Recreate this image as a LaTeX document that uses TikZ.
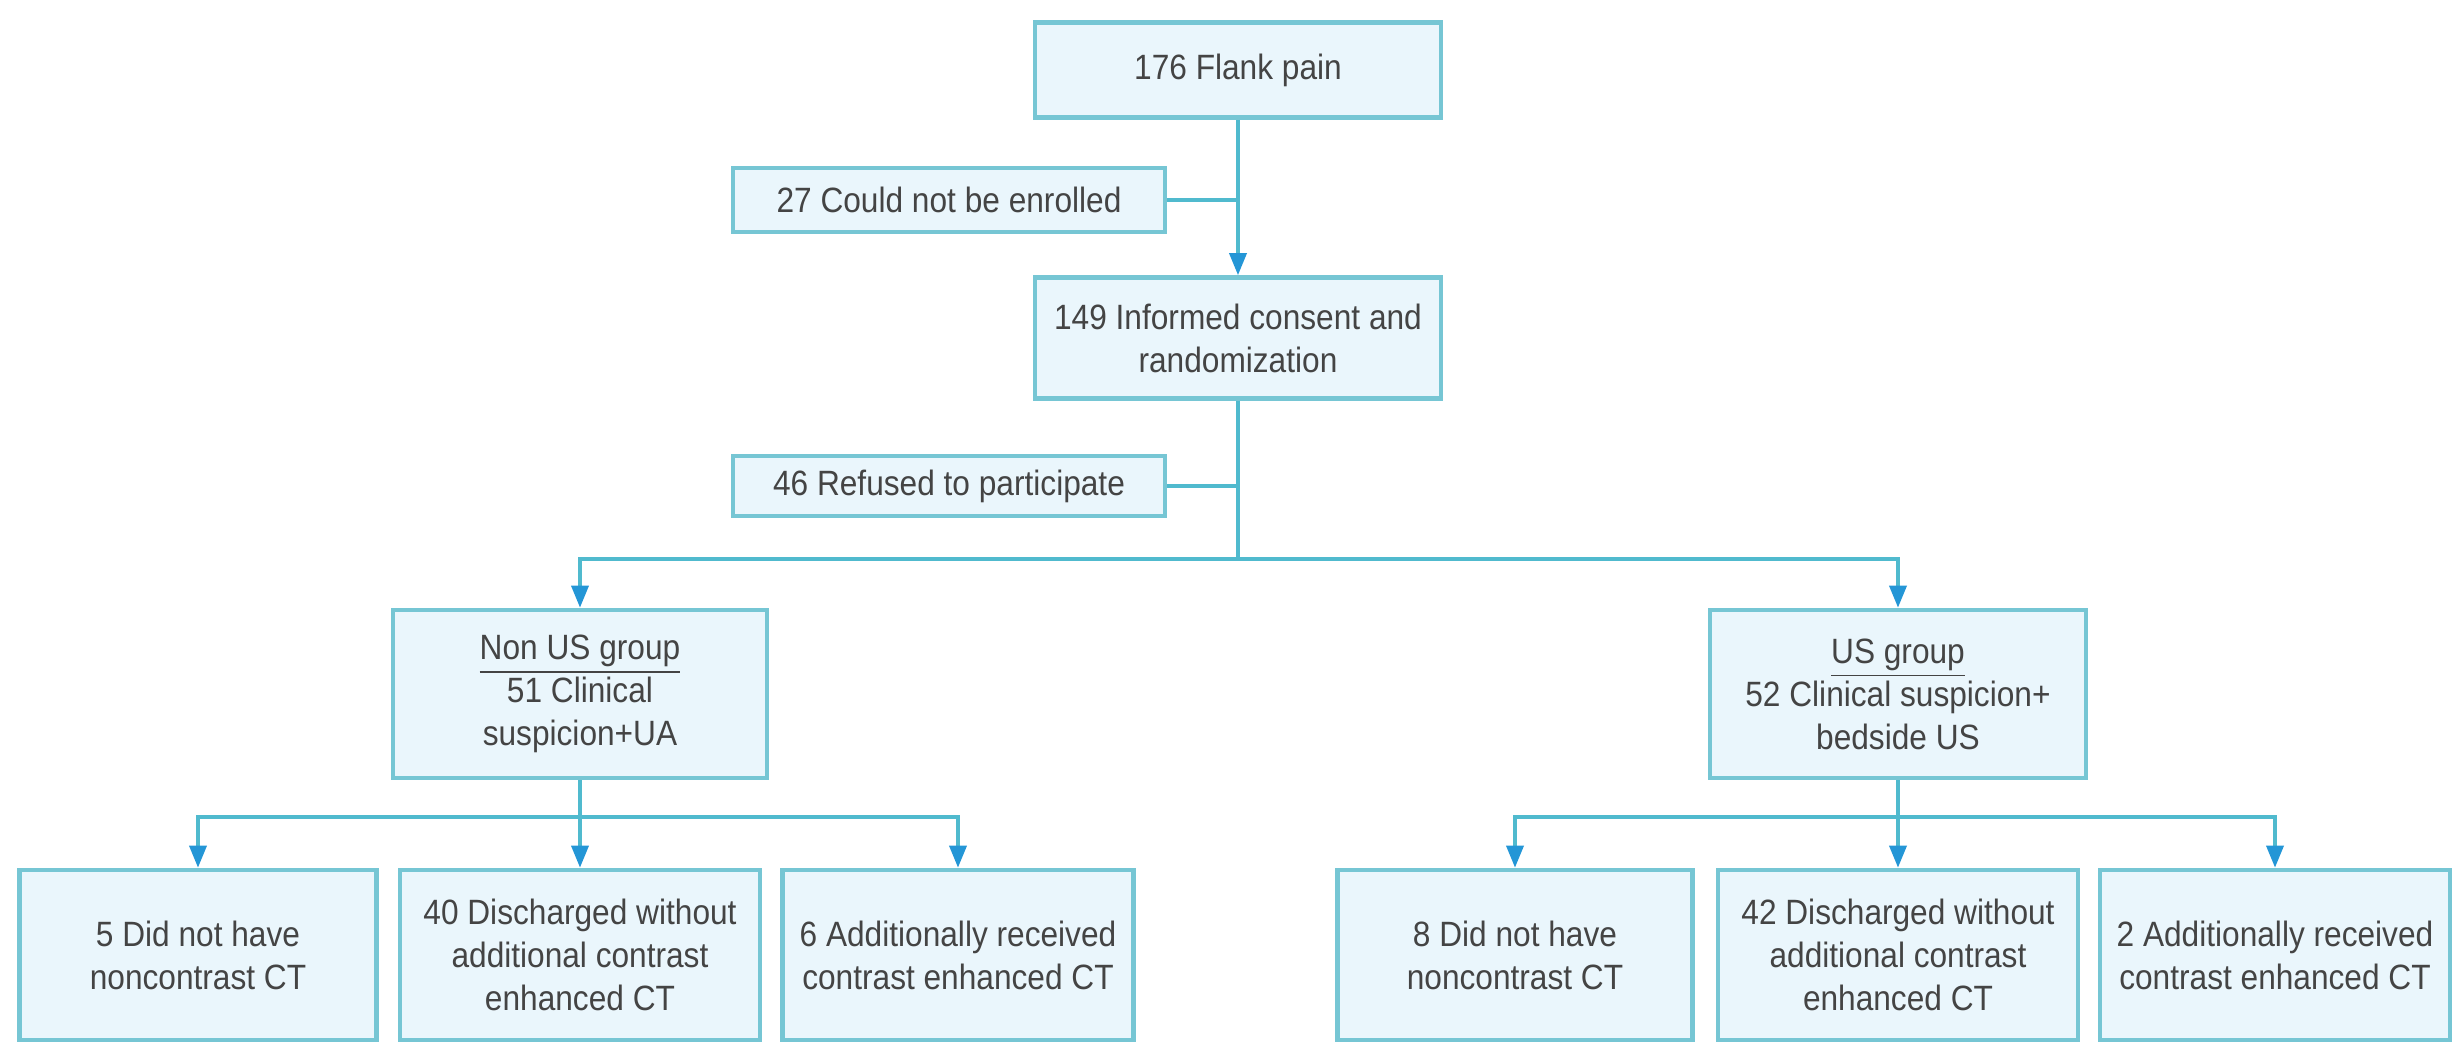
\documentclass[tikz,border=0pt]{standalone}
\usepackage{fontspec}
\setmainfont{Liberation Sans}[FakeStretch=0.9]
\usetikzlibrary{arrows.meta}

\definecolor{boxfill}{RGB}{234,246,252}
\definecolor{boxline}{RGB}{118,198,212}
\definecolor{linkteal}{RGB}{80,186,206}
\definecolor{tipblue}{RGB}{36,150,214}
\definecolor{txtgray}{RGB}{68,68,68}

\begin{document}
\begin{tikzpicture}[x={(0.01cm,0cm)},y={(0cm,-0.01cm)},
    flowbox/.style={draw=boxline,fill=boxfill,line width=1.3pt,align=center,
        text=txtgray,inner sep=2pt,font=\fontsize{10}{12.2}\selectfont},
    link/.style={draw=linkteal,line width=1pt},
    flowarrow/.style={link,-{Triangle[length=2.2mm,width=1.7mm,color=tipblue]}}]
        \useasboundingbox (0,0) rectangle (2453,1044);
        % main column
        \node[flowbox,minimum width=4.06cm,minimum height=0.95cm] (flank) at (1238,70) {176 Flank pain};
        \node[flowbox,minimum width=4.32cm,minimum height=0.64cm] (enrol) at (949,200) {27 Could not be enrolled};
        \node[flowbox,minimum width=4.06cm,minimum height=1.21cm] (consent) at (1238,338) {149 Informed consent and\\randomization};
        \node[flowbox,minimum width=4.32cm,minimum height=0.6cm] (refuse) at (949,486) {46 Refused to participate};
        % groups
        \node[flowbox,minimum width=3.74cm,minimum height=1.68cm] (nonus) at (580,694) {\underline{Non US group}\\51 Clinical\\suspicion+UA};
        \node[flowbox,minimum width=3.76cm,minimum height=1.68cm] (us) at (1898,694) {\underline{US group}\\52 Clinical suspicion+\\bedside US};
        % outcomes
        \node[flowbox,minimum width=3.57cm,minimum height=1.7cm] (nonA) at (198,955) {5 Did not have\\noncontrast CT};
        \node[flowbox,minimum width=3.6cm,minimum height=1.7cm] (nonB) at (580,955) {40 Discharged without\\additional contrast\\enhanced CT};
        \node[flowbox,minimum width=3.51cm,minimum height=1.7cm] (nonC) at (958,955) {6 Additionally received\\contrast enhanced CT};
        \node[flowbox,minimum width=3.55cm,minimum height=1.7cm] (usA) at (1515,955) {8 Did not have\\noncontrast CT};
        \node[flowbox,minimum width=3.6cm,minimum height=1.7cm] (usB) at (1898,955) {42 Discharged without\\additional contrast\\enhanced CT};
        \node[flowbox,minimum width=3.5cm,minimum height=1.7cm] (usC) at (2275,955) {2 Additionally received\\contrast enhanced CT};

        \coordinate (split) at (1238,559);
        \coordinate (nonsplit) at (580,817);
        \coordinate (ussplit) at (1898,817);

        \draw[flowarrow] (flank) -- (consent);
        \draw[link] (enrol.east) -- (enrol.east -| flank.south);
        \draw[link] (consent) -- (split);
        \draw[link] (refuse.east) -- (refuse.east -| consent.south);
        \draw[flowarrow] (split) -| (nonus);
        \draw[flowarrow] (split) -| (us);

        \draw[link] (nonus) -- (nonsplit);
        \draw[flowarrow] (nonsplit) -| (nonA);
        \draw[flowarrow] (nonsplit) -- (nonB);
        \draw[flowarrow] (nonsplit) -| (nonC);
        \draw[link] (us) -- (ussplit);
        \draw[flowarrow] (ussplit) -| (usA);
        \draw[flowarrow] (ussplit) -- (usB);
        \draw[flowarrow] (ussplit) -| (usC);
    \end{tikzpicture}
\end{document}
